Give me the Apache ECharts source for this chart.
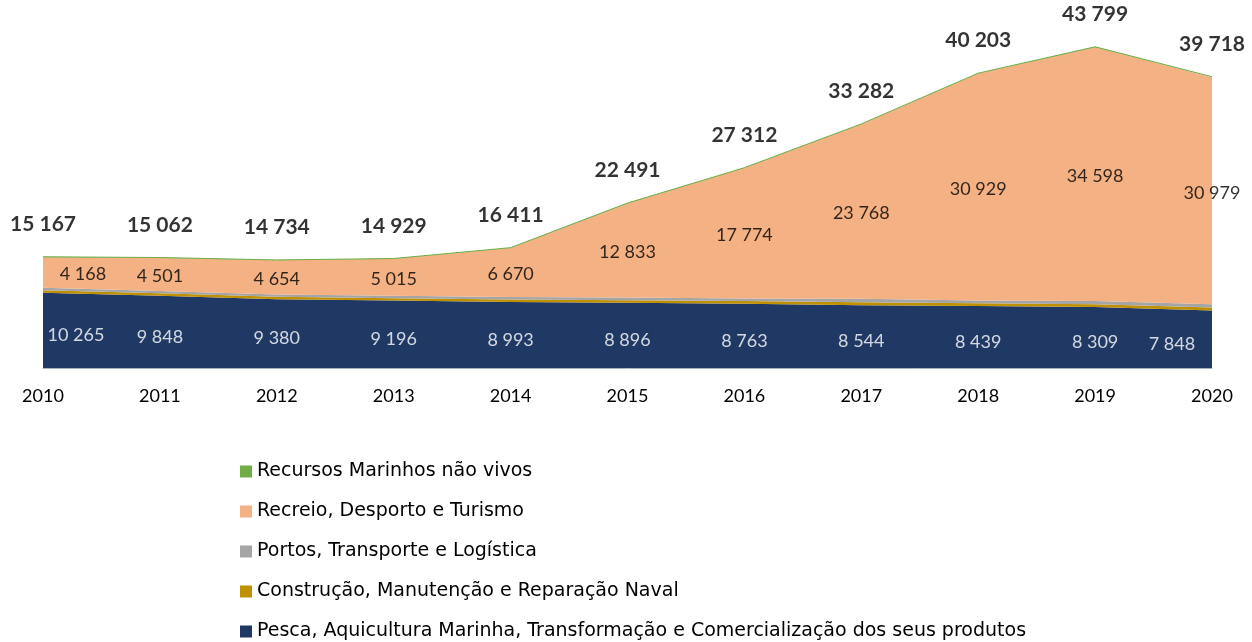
<!DOCTYPE html>
<html>
<head>
<meta charset="utf-8">
<script src="https://cdn.jsdelivr.net/npm/echarts@6/dist/echarts.min.js"></script>
<style>
html,body{margin:0;padding:0;background:#fff;}
#main{width:1252px;height:642px;}
</style>
</head>
<body>
<div id="main"></div>
<script>
var years = ['2010','2011','2012','2013','2014','2015','2016','2017','2018','2019','2020'];
// valores por sector
var pesca      = [10265, 9848, 9380, 9196, 8993, 8896, 8763, 8544, 8439, 8309, 7848];
var construcao = [340, 330, 320, 330, 340, 350, 360, 420, 380, 400, 400];
var portos     = [344, 333, 335, 343, 358, 362, 365, 490, 400, 432, 431];
var recreio    = [4168, 4501, 4654, 5015, 6670, 12833, 17774, 23768, 30929, 34598, 30979];
var recursos   = [50, 50, 45, 45, 50, 50, 50, 60, 55, 60, 60];
var totais     = [15167, 15062, 14734, 14929, 16411, 22491, 27312, 33282, 40203, 43799, 39718];

var nomes = [
  'Pesca, Aquicultura Marinha, Transformação e Comercialização dos seus produtos',
  'Construção, Manutenção e Reparação Naval',
  'Portos, Transporte e Logística',
  'Recreio, Desporto e Turismo',
  'Recursos Marinhos não vivos'
];
var cores = ['#203864', '#BF9000', '#A5A5A5', '#F4B183', '#70AD47'];
var valores = [pesca, construcao, portos, recreio, recursos];

function fmt(v){
  return String(v).replace(/\B(?=(\d{3})+(?!\d))/g, ' ');
}

var series = [];
for (var s = 0; s < valores.length; s++) {
  series.push({
    name: nomes[s],
    type: 'line',
    stack: 'total',
    data: valores[s],
    showSymbol: false,
    symbol: 'none',
    lineStyle: {width: s == 4 ? 1 : 0, color: cores[s]},
    areaStyle: {color: cores[s], opacity: 1},
    itemStyle: {color: cores[s]},
    z: 2
  });
}

// etiquetas no meio das faixas (pesca e recreio)
function meio(idx, cor, dy){
  var d = [];
  for (var i = 0; i < years.length; i++) {
    var base = 0;
    for (var k = 0; k < idx; k++) base += valores[k][i];
    var item = {value: [i, base + valores[idx][i] / 2]};
    if (i == 0) item.label = {offset: [idx == 0 ? 33 : 40, dy]};
    if (i == years.length - 1 && idx == 0) item.label = {offset: [-40, dy]};
    d.push(item);
  }
  return {
    type: 'scatter',
    data: d,
    symbolSize: 0,
    silent: true,
    z: 5,
    label: {
      show: true,
      position: 'inside',
      offset: [0, dy],
      color: cor,
      fontFamily: 'Lato',
      fontSize: 18,
      formatter: function(p){ return fmt(valores[idx][p.dataIndex]); }
    }
  };
}
series.push(meio(0, '#ffffff', 5));
series.push(meio(3, '#000000', 2));

// totais
series.push({
  type: 'scatter',
  data: totais.map(function(v, i){ return [i, v]; }),
  symbolSize: 0,
  silent: true,
  z: 5,
  label: {
    show: true,
    position: 'top',
    distance: 22,
    color: '#000',
    fontFamily: 'Lato',
    fontWeight: 'bold',
    fontSize: 21,
    formatter: function(p){ return fmt(totais[p.dataIndex]); }
  }
});

var myChart = echarts.init(document.getElementById('main'));
var option = {
  animation: false,
  backgroundColor: '#ffffff',
  grid: {left: 43, right: 40, top: 38, bottom: 274},
  legend: {
    orient: 'vertical',
    left: 240,
    top: 462,
    padding: 0,
    itemWidth: 12,
    itemHeight: 12,
    itemGap: 21,
    icon: 'rect',
    data: nomes.slice().reverse(),
    textStyle: {fontFamily: 'DejaVu Sans', fontSize: 19, color: '#000'}
  },
  xAxis: {
    type: 'category',
    data: years,
    boundaryGap: false,
    axisLine: {lineStyle: {color: '#A9B4C4', width: 1}},
    axisTick: {show: false},
    axisLabel: {margin: 19, color: '#000', fontFamily: 'Lato', fontSize: 18}
  },
  yAxis: {
    type: 'value',
    min: 0,
    max: 45000,
    show: false,
    splitLine: {show: false}
  },
  series: series
};
myChart.setOption(option);
</script>
</body>
</html>
